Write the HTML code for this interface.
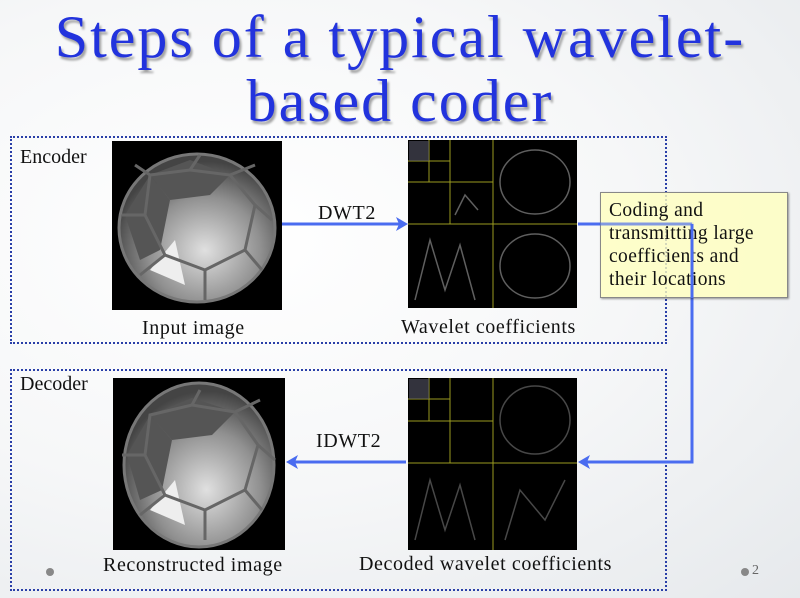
<!DOCTYPE html>
<html><head><meta charset="utf-8"><style>
html,body{margin:0;padding:0}
body{width:800px;height:598px;position:relative;overflow:hidden;font-family:"Liberation Serif",serif;
background:radial-gradient(ellipse at 30% 40%,#ffffff 0%,#f6f7f8 50%,#e6e9ec 100%);}
.t{position:absolute;left:0;width:800px;text-align:center;color:#2233dd;font-size:60px;line-height:62px;
text-shadow:2px 3px 2px rgba(0,0,0,.35);letter-spacing:2px}
.box{position:absolute;border:2px dotted #2a3fa8;box-sizing:border-box}
.lbl{position:absolute;font-size:20px;color:#111;white-space:nowrap;letter-spacing:0.6px}
.note{position:absolute;left:600px;top:192px;width:188px;height:106px;box-sizing:border-box;border:1px solid #888;
background:rgba(255,255,190,.8);box-shadow:1px 1px 2px rgba(0,0,0,.4);font-size:19.5px;line-height:23px;padding:6px 8px;color:#111;letter-spacing:0.4px;white-space:nowrap}
</style></head><body>
<div class="t" style="top:6px">Steps of a typical wavelet-</div>
<div class="t" style="top:70px">based coder</div>

<div class="box" style="left:10px;top:136px;width:657px;height:208px"></div>
<div class="box" style="left:10px;top:369px;width:657px;height:222px"></div>
<div class="lbl" style="left:20px;top:146px;letter-spacing:0">Encoder</div>
<div class="lbl" style="left:20px;top:373px;letter-spacing:0">Decoder</div>

<svg style="position:absolute;left:0;top:0" width="800" height="598">
<defs>
<radialGradient id="g" cx="0.55" cy="0.65" r="0.6"><stop offset="0" stop-color="#e0e0e0"/><stop offset="0.6" stop-color="#909090"/><stop offset="1" stop-color="#444"/></radialGradient>
</defs>
<rect x="112" y="141" width="170" height="169" fill="#000"/>
<ellipse cx="197" cy="228" rx="78" ry="74" fill="url(#g)" stroke="#777" stroke-width="3"/>
<g fill="#555"><path d="M125 215 L150 175 L170 200 L160 250 L140 260Z"/><path d="M150 175 L190 160 L230 175 L210 195 L170 200Z"/></g>
<g fill="#eee"><path d="M150 270 L175 240 L185 285Z"/></g>
<g stroke="#666" stroke-width="3" fill="none">
<path d="M150 175 L190 170 L230 175 L255 205 L245 250 L205 270 L165 255 L145 215 Z"/>
<path d="M190 170 L200 155 M230 175 L255 165 M255 205 L272 220 M245 250 L262 270 M205 270 L205 300 M165 255 L140 275 M145 215 L122 215 M150 175 L135 165"/>
</g>
<rect x="113" y="378" width="172" height="172" fill="#000"/>
<ellipse cx="199" cy="465" rx="75" ry="82" fill="url(#g)" stroke="#777" stroke-width="3"/>
<g fill="#555"><path d="M127 455 L150 415 L172 440 L162 490 L140 500Z"/><path d="M150 415 L192 398 L235 412 L212 435 L172 440Z"/></g>
<g fill="#eee"><path d="M150 510 L175 480 L185 525Z"/></g>
<g stroke="#666" stroke-width="3" fill="none">
<path d="M150 415 L192 405 L235 412 L258 445 L245 490 L205 510 L165 495 L145 455 Z"/>
<path d="M192 405 L200 390 M235 412 L260 400 M258 445 L275 460 M245 490 L262 510 M205 510 L205 540 M165 495 L140 515 M145 455 L122 455"/>
</g>
<g>
<rect x="408" y="140" width="169" height="168" fill="#000"/>
<g stroke="#9a9a20" stroke-width="1"><path d="M408 224H577M493 140V308M408 182H493M450 140V224M408 161H450M429 140V182"/></g>
<rect x="409" y="141" width="20" height="20" fill="#556" opacity=".6"/>
<g stroke="#777" stroke-width="1.5" fill="none" opacity=".8">
<ellipse cx="535" cy="182" rx="35" ry="32"/><ellipse cx="535" cy="266" rx="35" ry="32"/>
<path d="M415 300 L430 240 L445 290 L460 245 L475 300"/><path d="M455 215 L465 195 L478 210"/>
</g>
<rect x="408" y="378" width="169" height="172" fill="#000"/>
<g stroke="#9a9a20" stroke-width="1"><path d="M408 463H577M493 378V550M408 421H493M450 378V463M408 399H450M429 378V421"/></g>
<rect x="409" y="379" width="20" height="20" fill="#556" opacity=".6"/>
<g stroke="#666" stroke-width="1.5" fill="none" opacity=".7">
<ellipse cx="535" cy="420" rx="35" ry="34"/><path d="M415 540 L430 480 L445 530 L460 485 L475 540"/><path d="M505 540 L520 490 L545 520 L565 480"/>
</g>
</g>
<g stroke="#4a6cf0" stroke-width="3" fill="none">
<path d="M282 224H402"/><path d="M578 224H692V462H584"/><path d="M406 462H292"/>
</g>
<g fill="#4a6cf0">
<path d="M408 224 L396 217 L399 224 L396 231Z"/>
<path d="M578 462 L590 455 L587 462 L590 469Z"/>
<path d="M286 462 L298 455 L295 462 L298 469Z"/>
</g>
<circle cx="50" cy="572" r="4" fill="#888"/><circle cx="745" cy="572" r="4" fill="#888"/>
</svg>
<div class="note">Coding and<br>transmitting large<br>coefficients and<br>their locations</div>
<svg style="position:absolute;left:0;top:0" width="800" height="598"><path d="M692 224V298" stroke="#4a6cf0" stroke-width="3"/><path d="M600 224H692" stroke="#4a6cf0" stroke-width="3" opacity=".6"/></svg>

<div class="lbl" style="left:318px;top:202px">DWT2</div>
<div class="lbl" style="left:316px;top:430px">IDWT2</div>
<div class="lbl" style="left:142px;top:317px">Input image</div>
<div class="lbl" style="left:401px;top:316px">Wavelet coefficients</div>
<div class="lbl" style="left:103px;top:554px">Reconstructed image</div>
<div class="lbl" style="left:359px;top:553px">Decoded wavelet coefficients</div>
<div class="lbl" style="left:752px;top:563px;font-size:14px;color:#666">2</div>
</body></html>
